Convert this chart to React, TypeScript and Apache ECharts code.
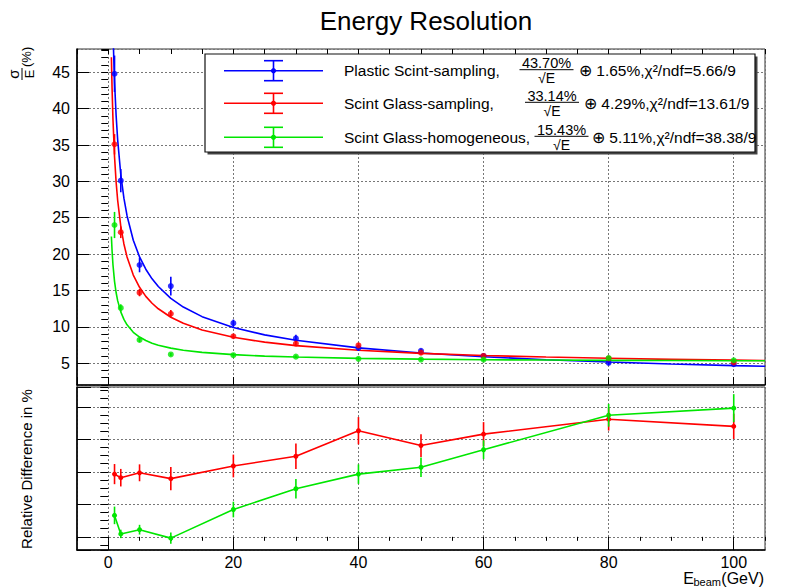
import React, { useEffect, useRef } from 'react';
import * as echarts from 'echarts';

const FONT = '"Liberation Sans", Arial, Helvetica, sans-serif';

// Beam energies (GeV)
const energies = [1, 2, 5, 10, 20, 30, 40, 50, 60, 80, 100];

// Energy resolution sigma/E (%) with errors
const plasticRes = [44.8, 30.1, 18.5, 15.6, 10.5, 8.4, 7.1, 6.7, 6.0, 5.05, 4.85];
const plasticErr = [2.5, 1.6, 1.0, 1.3, 0.5, 0.5, 0.4, 0.3, 0.3, 0.3, 0.3];
const glassSampRes = [35.1, 23.0, 14.7, 11.8, 8.7, 7.7, 7.45, 6.45, 6.0, 5.65, 5.1];
const glassSampErr = [1.4, 0.8, 0.5, 0.5, 0.3, 0.3, 0.3, 0.3, 0.3, 0.3, 0.3];
const glassHomoRes = [24.0, 12.6, 8.2, 6.2, 6.1, 5.9, 5.6, 5.5, 5.5, 5.7, 5.4];
const glassHomoErr = [1.8, 0.5, 0.3, 0.2, 0.2, 0.2, 0.2, 0.2, 0.2, 0.2, 0.2];

// Fit curves as drawn (values of the fitted functions at these energies)
const fitEnergies = [0.5, 0.6, 0.75, 1, 1.25, 1.5, 2, 2.5, 3, 4, 5, 6, 7, 8, 10, 12, 15, 20, 25, 30, 40, 50, 60, 70, 80, 90, 100, 105];
const plasticFit = [61.82, 56.44, 50.49, 43.73, 39.12, 35.72, 30.94, 27.69, 25.28, 21.91, 19.61, 17.92, 16.6, 15.54, 13.92, 12.72, 11.4, 9.91, 8.89, 8.15, 7.1, 6.4, 5.88, 5.48, 5.16, 4.89, 4.67, 4.57];
const glassSampFit = [47.06, 43.0, 38.51, 33.42, 29.95, 27.4, 23.82, 21.39, 19.61, 17.12, 15.43, 14.19, 13.24, 12.48, 11.32, 10.48, 9.57, 8.56, 7.89, 7.42, 6.77, 6.35, 6.06, 5.84, 5.67, 5.53, 5.42, 5.37];
const glassHomoFit = [22.41, 20.56, 18.54, 16.25, 14.72, 13.6, 12.05, 11.02, 10.27, 9.25, 8.59, 8.11, 7.75, 7.47, 7.07, 6.78, 6.48, 6.17, 5.97, 5.84, 5.66, 5.56, 5.48, 5.43, 5.39, 5.36, 5.34, 5.33];

// Relative difference panel (unlabelled axis, arbitrary units)
const glassSampDiff = [38.6, 36.4, 39.4, 35.8, 43.6, 49.6, 65.3, 56.2, 63.2, 72.4, 68.0];
const glassSampDiffErr = [6.2, 5.4, 5.2, 7.2, 7.0, 7.8, 8.4, 7.0, 7.4, 7.0, 7.8];
const glassHomoDiff = [13.2, 1.8, 4.4, -0.8, 16.8, 29.6, 38.6, 42.8, 53.6, 74.8, 79.2];
const glassHomoDiffErr = [5.4, 2.6, 3.0, 3.4, 4.8, 6.0, 6.0, 6.0, 5.8, 7.0, 8.6];

// Legend texts
const legendLabels = ['Plastic Scint-sampling,', 'Scint Glass-sampling,', 'Scint Glass-homogeneous,'];
const stochTerms = ['43.70%', '33.14%', '15.43%'];
const constTerms = ['1.65%', '4.29%', '5.11%'];
const chi2Values = ['5.66/9', '13.61/9', '38.38/9'];

const COLORS = ['#0000ff', '#ff0000', '#00e600'];

const GRID_LEFT = 77;
const GRID_W = 688;

function errorBarSeries(color: string, xi: number, yi: number, vals: number[], errs: number[]) {
  return {
    type: 'custom',
    xAxisIndex: xi,
    yAxisIndex: yi,
    data: energies.map((e, i) => [e, vals[i], errs[i]]),
    encode: { x: 0, y: 1 },
    renderItem: (params: any, api: any) => {
      const x = api.value(0);
      const y = api.value(1);
      const e = api.value(2);
      const top = api.coord([x, y + e]);
      const bot = api.coord([x, y - e]);
      return {
        type: 'line',
        shape: { x1: top[0], y1: top[1], x2: bot[0], y2: bot[1] },
        style: { stroke: color, lineWidth: 1.6 },
      };
    },
    z: 3,
  };
}

function legendGraphics() {
  const rowY = [70.7, 103.3, 137.3];
  const numCenter = [546.5, 552, 561.5];
  const restX = [579, 584, 592];
  const els: any[] = [];
  els.push({ type: 'rect', shape: { x: 207.5, y: 56.5, width: 550, height: 98 }, style: { fill: '#444' }, z: 10 });
  els.push({ type: 'rect', shape: { x: 205, y: 54, width: 550, height: 98 }, style: { fill: '#fff', stroke: '#111', lineWidth: 1.2 }, z: 11 });
  for (let i = 0; i < 3; i++) {
    const c = rowY[i];
    const col = COLORS[i];
    els.push({ type: 'line', shape: { x1: 224, y1: c, x2: 323, y2: c }, style: { stroke: col, lineWidth: 1.6 }, z: 12 });
    els.push({ type: 'line', shape: { x1: 273.5, y1: c - 10, x2: 273.5, y2: c + 10 }, style: { stroke: col, lineWidth: 1.6 }, z: 12 });
    els.push({ type: 'line', shape: { x1: 264, y1: c - 10, x2: 283, y2: c - 10 }, style: { stroke: col, lineWidth: 1.6 }, z: 12 });
    els.push({ type: 'line', shape: { x1: 264, y1: c + 10, x2: 283, y2: c + 10 }, style: { stroke: col, lineWidth: 1.6 }, z: 12 });
    els.push({ type: 'circle', shape: { cx: 273.5, cy: c, r: 2.6 }, style: { fill: col }, z: 12 });
    els.push({ type: 'text', x: 344, y: c, style: { text: legendLabels[i], fontSize: 15.5, fontFamily: FONT, fill: '#000', align: 'left', verticalAlign: 'middle' }, z: 12 });
    els.push({ type: 'text', x: numCenter[i], y: c - 7.5, style: { text: stochTerms[i], fontSize: 14.5, fontFamily: FONT, fill: '#000', align: 'center', verticalAlign: 'middle' }, z: 12 });
    els.push({ type: 'line', shape: { x1: numCenter[i] - 27, y1: c - 1, x2: numCenter[i] + 27, y2: c - 1 }, style: { stroke: '#000', lineWidth: 1 }, z: 12 });
    els.push({ type: 'text', x: numCenter[i], y: c + 7.5, style: { text: '√E', fontSize: 14, fontFamily: FONT, fill: '#000', align: 'center', verticalAlign: 'middle' }, z: 12 });
    els.push({ type: 'text', x: restX[i], y: c, style: { text: '⊕ ' + constTerms[i] + ',χ²/ndf=' + chi2Values[i], fontSize: 15.5, fontFamily: FONT, fill: '#000', align: 'left', verticalAlign: 'middle' }, z: 12 });
  }
  return els;
}

export default function App() {
  const ref = useRef<HTMLDivElement>(null);
  useEffect(() => {
    document.body.style.margin = '0';
    if (!ref.current) return;
    const chart = echarts.init(ref.current, undefined, { renderer: 'svg' });
    const dotted = { show: true, lineStyle: { color: '#777', type: [2, 2] as any, width: 1 } };
    const axisLineStyle = { show: true, onZero: false, lineStyle: { color: '#000', width: 1.6 } };
    const labelStyle = { fontSize: 16, color: '#000', fontFamily: FONT };
    const option: any = {
      animation: false,
      textStyle: { fontFamily: FONT },
      grid: [
        { left: GRID_LEFT, top: 49, width: GRID_W, height: 336, show: true, borderColor: '#333', borderWidth: 1 },
        { left: GRID_LEFT, top: 387, width: GRID_W, height: 163, show: true, borderColor: '#333', borderWidth: 1 },
      ],
      xAxis: [
        { type: 'value', gridIndex: 0, min: -5, max: 105, splitNumber: 5, axisLine: axisLineStyle, axisTick: { inside: true, length: 8, lineStyle: { color: '#000' } }, axisLabel: { show: false }, splitLine: dotted },
        { type: 'value', gridIndex: 1, min: -5, max: 105, splitNumber: 5, axisLine: axisLineStyle, axisTick: { inside: true, length: 9, lineStyle: { color: '#000' } }, axisLabel: { ...labelStyle, margin: 4, showMinLabel: false, showMaxLabel: false }, splitLine: dotted },
        { type: 'value', gridIndex: 0, min: -5, max: 105, interval: 5, axisLine: { show: false }, axisTick: { inside: true, length: 5, lineStyle: { color: '#000' } }, axisLabel: { show: false }, splitLine: { show: false } },
        { type: 'value', gridIndex: 1, min: -5, max: 105, interval: 5, axisLine: { show: false }, axisTick: { inside: true, length: 4, lineStyle: { color: '#000' } }, axisLabel: { show: false }, splitLine: { show: false } },
      ],
      yAxis: [
        { type: 'value', gridIndex: 0, min: 2, max: 48.2, splitNumber: 9, axisLine: axisLineStyle, axisTick: { inside: true, length: 12, lineStyle: { color: '#000' } }, axisLabel: { ...labelStyle, margin: 7, showMinLabel: false, showMaxLabel: false }, splitLine: dotted },
        { type: 'value', gridIndex: 1, min: -8.1, max: 92.2, splitNumber: 5, axisLine: axisLineStyle, axisTick: { inside: true, length: 14, lineStyle: { color: '#000' } }, axisLabel: { show: false }, splitLine: dotted },
        { type: 'value', gridIndex: 0, min: 2, max: 48.2, interval: 1, axisLine: { show: false }, axisTick: { inside: true, length: 7, lineStyle: { color: '#000' } }, axisLabel: { show: false }, splitLine: { show: false } },
        { type: 'value', gridIndex: 1, min: -8.1, max: 92.2, splitNumber: 20, axisLine: { show: false }, axisTick: { inside: true, length: 8, lineStyle: { color: '#000' } }, axisLabel: { show: false }, splitLine: { show: false } },
      ],
      series: [
        { type: 'line', xAxisIndex: 0, yAxisIndex: 0, data: fitEnergies.map((e, i) => [e, plasticFit[i]]), showSymbol: false, lineStyle: { color: COLORS[0], width: 1.6 }, z: 2 },
        { type: 'line', xAxisIndex: 0, yAxisIndex: 0, data: fitEnergies.map((e, i) => [e, glassSampFit[i]]), showSymbol: false, lineStyle: { color: COLORS[1], width: 1.6 }, z: 2 },
        { type: 'line', xAxisIndex: 0, yAxisIndex: 0, data: fitEnergies.map((e, i) => [e, glassHomoFit[i]]), showSymbol: false, lineStyle: { color: COLORS[2], width: 1.6 }, z: 2 },
        errorBarSeries(COLORS[0], 0, 0, plasticRes, plasticErr),
        errorBarSeries(COLORS[1], 0, 0, glassSampRes, glassSampErr),
        errorBarSeries(COLORS[2], 0, 0, glassHomoRes, glassHomoErr),
        { type: 'scatter', xAxisIndex: 0, yAxisIndex: 0, data: energies.map((e, i) => [e, plasticRes[i]]), symbol: 'circle', symbolSize: 6, itemStyle: { color: COLORS[0] }, z: 4 },
        { type: 'scatter', xAxisIndex: 0, yAxisIndex: 0, data: energies.map((e, i) => [e, glassSampRes[i]]), symbol: 'circle', symbolSize: 6, itemStyle: { color: COLORS[1] }, z: 4 },
        { type: 'scatter', xAxisIndex: 0, yAxisIndex: 0, data: energies.map((e, i) => [e, glassHomoRes[i]]), symbol: 'circle', symbolSize: 6, itemStyle: { color: COLORS[2] }, z: 4 },
        { type: 'line', xAxisIndex: 1, yAxisIndex: 1, data: energies.map((e, i) => [e, glassSampDiff[i]]), symbol: 'circle', symbolSize: 5, itemStyle: { color: COLORS[1] }, lineStyle: { color: COLORS[1], width: 1.6 }, z: 2 },
        { type: 'line', xAxisIndex: 1, yAxisIndex: 1, data: energies.map((e, i) => [e, glassHomoDiff[i]]), symbol: 'circle', symbolSize: 5, itemStyle: { color: COLORS[2] }, lineStyle: { color: COLORS[2], width: 1.6 }, z: 2 },
        errorBarSeries(COLORS[1], 1, 1, glassSampDiff, glassSampDiffErr),
        errorBarSeries(COLORS[2], 1, 1, glassHomoDiff, glassHomoDiffErr),
      ],
      graphic: [
        { type: 'text', x: 426, y: 21, style: { text: 'Energy Resolution', fontSize: 26, fontFamily: FONT, fill: '#000', align: 'center', verticalAlign: 'middle' } },
        {
          type: 'group', x: 22, y: 80, rotation: Math.PI / 2,
          children: [
            { type: 'text', x: 6, y: -1, style: { text: 'σ', fontSize: 15, fontFamily: FONT, fill: '#000', align: 'center', verticalAlign: 'bottom' } },
            { type: 'line', shape: { x1: 0, y1: 0, x2: 12, y2: 0 }, style: { stroke: '#000', lineWidth: 1 } },
            { type: 'text', x: 6, y: 1, style: { text: 'E', fontSize: 13, fontFamily: FONT, fill: '#000', align: 'center', verticalAlign: 'top' } },
            { type: 'text', x: 13, y: 4, style: { text: '(%)', fontSize: 13, fontFamily: FONT, fill: '#000', align: 'left', verticalAlign: 'middle' } },
          ],
        },
        { type: 'text', x: 26, y: 469, rotation: Math.PI / 2, style: { text: 'Relative Difference in %', fontSize: 15, fontFamily: FONT, fill: '#000', align: 'center', verticalAlign: 'middle' } },
        { type: 'text', x: 764, y: 578, style: { text: '(GeV)', fontSize: 16, fontFamily: FONT, fill: '#000', align: 'right', verticalAlign: 'middle' } },
        { type: 'text', x: 721, y: 582, style: { text: 'beam', fontSize: 11, fontFamily: FONT, fill: '#000', align: 'right', verticalAlign: 'middle' } },
        { type: 'text', x: 694, y: 578, style: { text: 'E', fontSize: 16, fontFamily: FONT, fill: '#000', align: 'right', verticalAlign: 'middle' } },
        ...legendGraphics(),
      ],
    };
    chart.setOption(option);
    return () => chart.dispose();
  }, []);
  return <div ref={ref} style={{ position: 'fixed', left: 0, top: 0, width: 791, height: 587, background: '#fff' }} />;
}
